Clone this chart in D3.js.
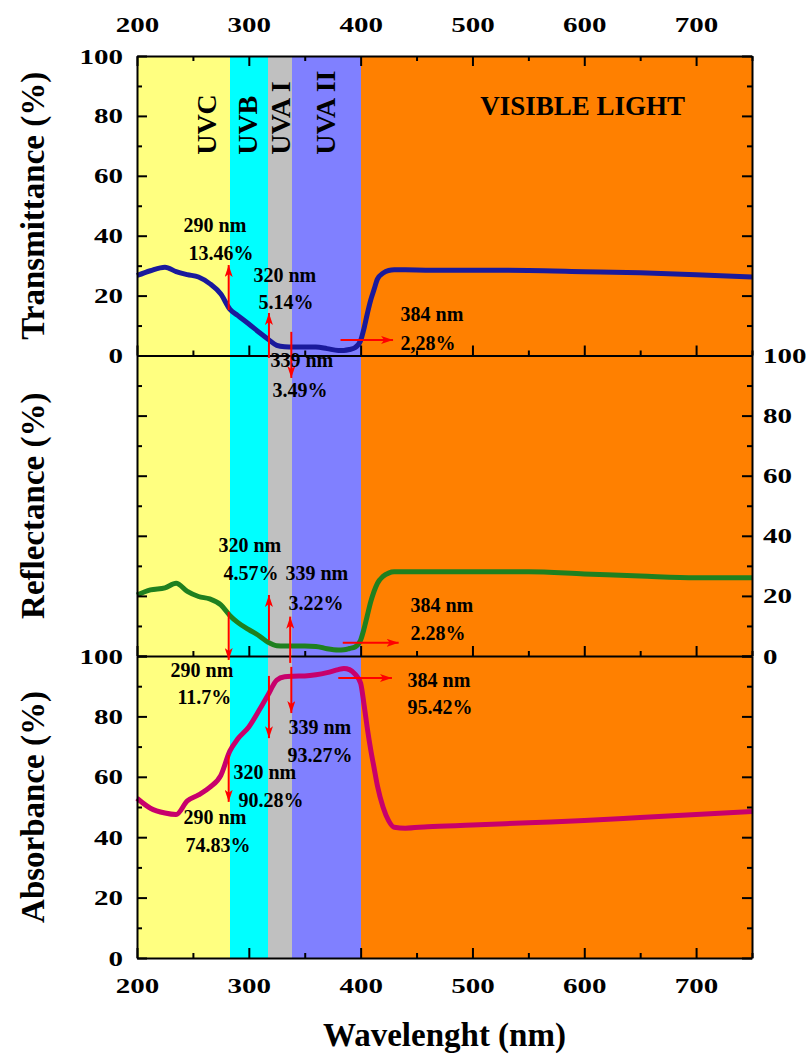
<!DOCTYPE html>
<html>
<head>
<meta charset="utf-8">
<script src="https://cdn.jsdelivr.net/npm/d3@7"></script>
<style>
  body { margin: 0; background: #fff; }
  text { font-family: "Liberation Serif", "Times New Roman", serif; font-weight: bold; }
</style>
</head>
<body>
<div id="chart"></div>
<script>
// Data

var wavelength = [200, 212, 225, 235, 245, 255, 265, 275, 283, 290, 300, 310, 317, 325, 332, 340, 350, 360,
  370, 380, 385, 390, 395, 400, 403, 406, 409, 412, 415, 420, 425, 430, 440, 460, 500, 550, 600, 650, 700, 750];

var transmittance = [26.7, 28.3, 29.5, 28.0, 27.0, 26.2, 24.0, 20.5, 15.5, 13.4, 10.5, 7.5, 5.5, 3.4, 2.9, 2.8, 2.8, 2.8,
  2.3, 1.7, 1.7, 2.0, 2.6, 5.0, 9.0, 14.0, 18.5, 22.0, 25.5, 27.5, 28.4, 28.6, 28.6, 28.5, 28.5, 28.4, 28.0, 27.6, 27.0, 26.2];

var reflectance = [20.3, 22.0, 22.7, 24.2, 21.5, 19.8, 19.0, 17.0, 13.5, 11.2, 8.8, 6.5, 4.6, 3.4, 3.3, 3.3, 3.3, 3.2,
  2.4, 2.0, 2.1, 2.5, 3.0, 5.3, 9.0, 13.5, 18.0, 21.5, 24.2, 26.5, 27.6, 28.0, 28.0, 28.0, 28.0, 28.0, 27.3, 26.6, 26.0, 26.0];

var absorbance = [52.9, 49.6, 48.0, 47.5, 52.0, 54.0, 56.5, 60.5, 68.5, 72.5, 76.5, 82.5, 87.0, 92.0, 93.1, 93.3, 93.4, 93.8,
  94.5, 95.5, 95.9, 95.5, 94.0, 91.0, 84.0, 76.0, 69.0, 63.0, 57.0, 50.0, 45.5, 43.3, 43.0, 43.5, 44.0, 44.8, 45.5, 46.5, 47.5, 48.5];

var bandNames = ["UVC", "UVB", "UVA I", "UVA II", "VISIBLE LIGHT"];
var bandEdges = [200, 283, 317, 339, 400, 750];
var bandColors = ["#ffff80", "#00ffff", "#c0c0c0", "#8080ff", "#ff8000"];
var bandLabelNm = [271, 307, 337, 377, 507];
var bandLabelVal = [67, 67, 67, 67, 80.3];

var xTicks = [200, 300, 400, 500, 600, 700];
var xMinor = [250, 350, 450, 550, 650, 750];
var yTicks = [0, 20, 40, 60, 80, 100];
var yMinor = [10, 30, 50, 70, 90];

// annotations: panel, wavelength, value, text
var notes = [
  ["T", 241.6, 41.2, "290 nm"], ["T", 246, 31.9, "13.46%"],
  ["T", 304.2, 24.5, "320 nm"], ["T", 308.7, 15.5, "5.14%"],
  ["T", 319.4, -3.8, "339 nm"], ["T", 321.2, -13.9, "3.49%"],
  ["T", 435.7, 11.5, "384 nm"], ["T", 435.7, 1.8, "2,28%"],
  ["R", 272.9, 34.6, "320 nm"], ["R", 277.4, 25.3, "4.57%"],
  ["R", 332.8, 25.3, "339 nm"], ["R", 335.5, 15.3, "3.22%"],
  ["R", 444.6, 14.6, "384 nm"], ["R", 444.6, 5.3, "2.28%"],
  ["R", 230, -7.0, "290 nm"], ["R", 236.2, -16.0, "11.7%"],
  ["A", 442, 89.7, "384 nm"], ["A", 442, 80.8, "95.42%"],
  ["A", 335.5, 74.2, "339 nm"], ["A", 334.6, 64.9, "93.27%"],
  ["A", 286.3, 59.3, "320 nm"], ["A", 290.8, 50.0, "90.28%"],
  ["A", 241.6, 44.4, "290 nm"], ["A", 243.4, 35.1, "74.83%"]
];

// arrows: panel, from (nm, value) to (nm, value)
var arrows = [
  ["T", 282, 15.2, 282, 30.2], ["T", 318, -0.8, 318, 14.2],
  ["T", 338, 7.9, 338, -7.5], ["T", 382, 5.2, 429, 5.2],
  ["R", 282, 14.7, 282, -1.3], ["R", 318, 5.3, 318, 20.3],
  ["R", 337, -2.3, 337, 13.1], ["R", 384, 4.4, 434, 4.4],
  ["A", 380, 92.7, 428, 92.7], ["A", 338, 96.4, 338, 81.1],
  ["A", 318, 93.4, 318, 72.8], ["A", 282, 67.2, 282, 51.7]
];

// Layout

var W = 811, H = 1055;
var left = 137, right = 752;
var panelTops = [56, 355.5, 656], panelBottoms = [355.5, 656, 958];

var svg = d3.select("#chart").append("svg")
  .attr("width", W).attr("height", H);

var x = d3.scaleLinear().domain([200, 750]).range([left, right]);
var y = {
  T: d3.scaleLinear().domain([0, 100]).range([panelBottoms[0], panelTops[0]]),
  R: d3.scaleLinear().domain([0, 100]).range([panelBottoms[1], panelTops[1]]),
  A: d3.scaleLinear().domain([0, 100]).range([panelBottoms[2], panelTops[2]])
};

// Spectral bands
svg.selectAll("rect.band")
  .data(bandColors)
  .enter().append("rect")
  .attr("class", "band")
  .attr("x", function(d, i) { return x(bandEdges[i]); })
  .attr("width", function(d, i) { return x(bandEdges[i + 1]) - x(bandEdges[i]) + 0.5; })
  .attr("y", panelTops[0])
  .attr("height", panelBottoms[2] - panelTops[0])
  .attr("shape-rendering", "crispEdges")
  .attr("fill", function(d) { return d; });

// Band labels
bandNames.forEach(function(name, i) {
  var px = x(bandLabelNm[i]), py = y.T(bandLabelVal[i]);
  var t = svg.append("text")
    .attr("font-size", i < 4 ? 28 : 27)
    .attr("fill", "#000")
    .text(name);
  if (i < 4) t.attr("transform", "translate(" + px + "," + py + ") rotate(-90)");
  else t.attr("x", px).attr("y", py);
});

// Curves
var series = [
  {panel: "T", values: transmittance, color: "#1a1a9c"},
  {panel: "R", values: reflectance, color: "#1f801f"},
  {panel: "A", values: absorbance, color: "#c8006c"}
];

series.forEach(function(s) {
  var line = d3.line()
    .x(function(d, i) { return x(wavelength[i]); })
    .y(function(d) { return y[s.panel](d); })
    .curve(d3.curveMonotoneX);
  svg.append("path")
    .datum(s.values)
    .attr("d", line)
    .attr("fill", "none")
    .attr("stroke", s.color)
    .attr("stroke-width", 5)
    .attr("stroke-linejoin", "round");
});

// Axes

function styleAxis(g) {
  g.select(".domain").attr("stroke", "#000").attr("stroke-width", 2);
  g.selectAll(".tick line").attr("stroke", "#000").attr("stroke-width", 2);
  g.selectAll(".tick text")
    .attr("font-family", "Liberation Serif, Times New Roman, serif")
    .attr("font-weight", "bold")
    .attr("font-size", 22)
    .attr("fill", "#000")
    .attr("textLength", function(d) { return String(d).length * 14.5; })
    .attr("lengthAdjust", "spacingAndGlyphs");
}

function addAxis(axis, tx, ty, labels, minorVals, pad) {
  var g = svg.append("g")
    .attr("transform", "translate(" + tx + "," + ty + ")")
    .call(axis.tickSizeInner(-10).tickSizeOuter(0).tickPadding(pad)
      .tickFormat(labels ? d3.format("d") : ""));
  styleAxis(g);
  var m = svg.append("g")
    .attr("transform", "translate(" + tx + "," + ty + ")")
    .call(axis.tickValues(minorVals).tickSizeInner(-5).tickFormat(""));
  m.select(".domain").remove();
  m.selectAll(".tick line").attr("stroke", "#000").attr("stroke-width", 2);
}

// x axes
addAxis(d3.axisTop(x).tickValues(xTicks), 0, panelTops[0], true, xMinor, 24);
addAxis(d3.axisBottom(x).tickValues(xTicks), 0, panelBottoms[0], false, xMinor, 10);
addAxis(d3.axisBottom(x).tickValues(xTicks), 0, panelBottoms[1], false, xMinor, 10);
addAxis(d3.axisBottom(x).tickValues(xTicks), 0, panelBottoms[2], true, xMinor, 19);

// y axes
addAxis(d3.axisLeft(y.T).tickValues(yTicks), left, 0, true, yMinor, 14);
addAxis(d3.axisRight(y.T).tickValues(yTicks), right, 0, false, yMinor, 10);
addAxis(d3.axisLeft(y.R).tickValues(yTicks), left, 0, false, yMinor, 14);
addAxis(d3.axisRight(y.R).tickValues(yTicks), right, 0, true, yMinor, 11);
addAxis(d3.axisLeft(y.A).tickValues(yTicks), left, 0, true, yMinor, 14);
addAxis(d3.axisRight(y.A).tickValues(yTicks), right, 0, false, yMinor, 10);

// Arrows
svg.append("defs").append("marker")
  .attr("id", "head")
  .attr("viewBox", "0 0 12 8")
  .attr("refX", 12).attr("refY", 4)
  .attr("markerWidth", 12).attr("markerHeight", 8)
  .attr("markerUnits", "userSpaceOnUse")
  .attr("orient", "auto")
  .append("path")
  .attr("d", "M0,0 L12,4 L0,8 L3,4 Z")
  .attr("fill", "#ff0000");

svg.selectAll("line.arrow")
  .data(arrows)
  .enter().append("line")
  .attr("class", "arrow")
  .attr("x1", function(d) { return x(d[1]); })
  .attr("y1", function(d) { return y[d[0]](d[2]); })
  .attr("x2", function(d) { return x(d[3]); })
  .attr("y2", function(d) { return y[d[0]](d[4]); })
  .attr("stroke", "#ff0000")
  .attr("stroke-width", 2)
  .attr("marker-end", "url(#head)");

// Annotation text
svg.selectAll("text.note")
  .data(notes)
  .enter().append("text")
  .attr("class", "note")
  .attr("x", function(d) { return x(d[1]); })
  .attr("y", function(d) { return y[d[0]](d[2]); })
  .attr("font-size", 20)
  .attr("fill", "#000")
  .text(function(d) { return d[3]; });

// Axis titles
var titles = [["Transmittance (%)", 0], ["Reflectance (%)", 1], ["Absorbance (%)", 2]];
titles.forEach(function(t) {
  var cy = (panelTops[t[1]] + panelBottoms[t[1]]) / 2;
  svg.append("text")
    .attr("transform", "translate(44," + cy + ") rotate(-90)")
    .attr("text-anchor", "middle")
    .attr("font-size", 33)
    .attr("fill", "#000")
    .text(t[0]);
});

svg.append("text")
  .attr("x", (left + right) / 2)
  .attr("y", 1046)
  .attr("text-anchor", "middle")
  .attr("font-size", 33)
  .attr("fill", "#000")
  .text("Wavelenght (nm)");
</script>
</body>
</html>
